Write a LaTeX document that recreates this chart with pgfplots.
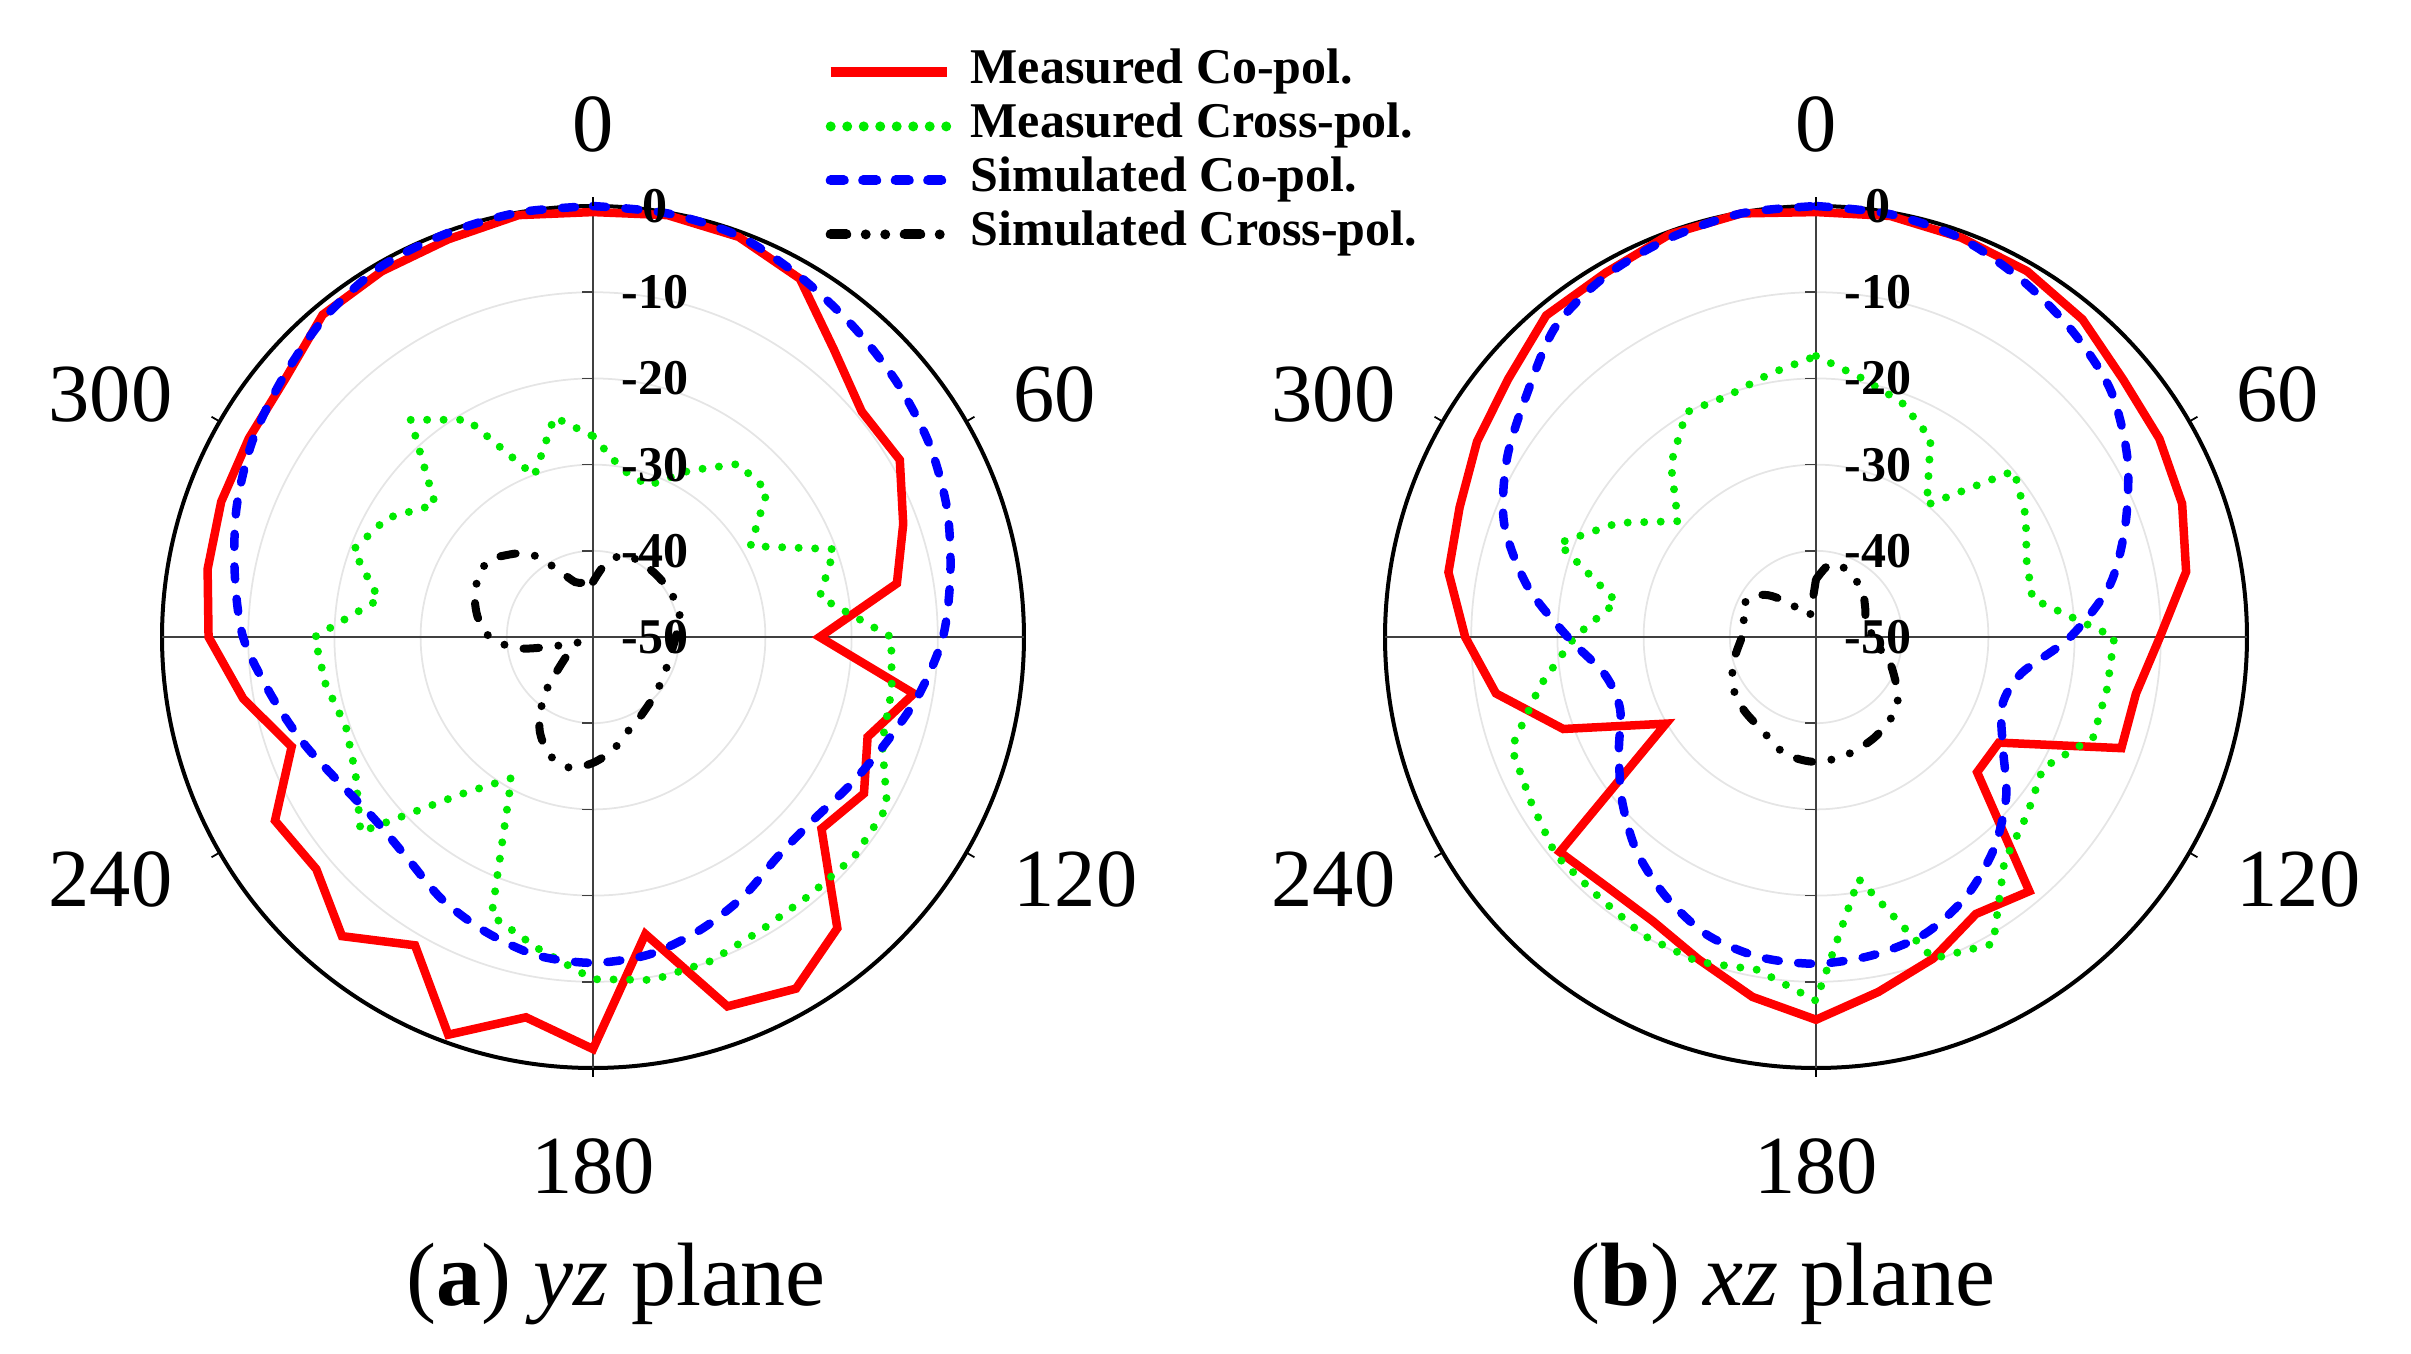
\documentclass[border=0pt]{standalone}
\usepackage{pgfplots}
\pgfplotsset{compat=1.18}
\usepackage{pgfplotstable}
\usepgfplotslibrary{polar}
\usepackage{fontspec}
\setmainfont{Liberation Serif}
\definecolor{mred}{RGB}{255,0,0}
\definecolor{mgreen}{RGB}{0,235,0}
\definecolor{sblue}{RGB}{0,0,255}
\newcommand\anglefont{\fontsize{16.5}{18}\selectfont}
\newcommand\radfont{\bfseries\fontsize{10}{12}\selectfont}
\newcommand\legfont{\bfseries\fontsize{10}{11}\selectfont}
\newcommand\capfont{\fontsize{18}{20}\selectfont}

% ---------- (a) yz plane ----------
\pgfplotstableread{
a d
0 -0.7
10 -0.3
20 -0.6
30 -2.0
40 -6.5
50 -9.3
60 -8.9
70 -11.7
80 -14.2
90 -23.7
100 -12.2
110 -16.1
120 -13.7
130 -15.4
140 -5.9
150 -2.9
160 -4.4
170 -15.0
180 -2.2
190 -5.2
200 -0.9
210 -8.7
220 -4.7
230 -8.1
240 -7.4
250 -12.8
260 -8.8
270 -5.4
280 -4.6
290 -4.1
300 -3.9
310 -3.4
320 -1.2
330 -1.0
340 -0.9
350 -0.3
360 -0.7
}\LRed
\pgfplotstableread{
a d
0 -26.7
10 -30.3
20 -31.3
30 -27.7
40 -23.8
50 -23.6
60 -28.9
70 -20.2
80 -23.3
90 -15.4
100 -14.8
110 -14.3
120 -10.6
130 -10.4
140 -10.9
150 -10.8
160 -10.0
170 -9.6
180 -10.3
190 -13.3
200 -15.6
210 -31.1
220 -26.2
230 -14.8
240 -18.2
250 -19.5
260 -18.5
270 -17.7
280 -24.8
290 -20.4
300 -22.4
310 -26.1
320 -17.1
330 -20.9
340 -30.1
350 -24.1
360 -26.7
}\LGreen
\pgfplotstableread{
a d
0 0.0
10 -0.1
20 -0.5
30 -1.8
40 -3.0
50 -4.0
60 -5.0
70 -6.3
80 -7.9
90 -9.4
100 -11.6
110 -13.9
120 -15.6
130 -16.8
140 -16.7
150 -15.2
160 -13.8
170 -12.6
180 -12.2
190 -12.5
200 -13.6
210 -14.9
220 -16.5
230 -17.0
240 -16.1
250 -14.2
260 -12.0
270 -9.4
280 -7.8
290 -6.0
300 -4.4
310 -3.1
320 -1.6
330 -0.5
340 -0.2
350 0.0
360 0.0
}\LBlue
\pgfplotstableread{
a d
0 -43.6
10 -41.3
20 -39.9
30 -39.7
45 -39.7
60 -39.6
75 -39.6
90 -40.4
105 -40.8
120 -40.6
135 -40.1
150 -39.2
160 -38.3
170 -36.7
180 -35.4
190 -34.6
200 -35.4
210 -37.6
220 -41.2
230 -45.3
240 -47.2
250 -48.1
255 -46.5
258 -44.2
261 -41.5
266 -39.3
271 -37.8
280 -36.4
290 -35.4
300 -34.9
307 -35.1
313 -36.1
320 -37.3
326 -38.9
334 -41.7
342 -43.3
350 -43.6
360 -43.6
}\LBlack

% ---------- (b) xz plane ----------
\pgfplotstableread{
a d
0 -0.7
10 -0.4
20 -0.7
30 -1.0
40 -1.9
50 -3.5
60 -4.0
70 -4.8
80 -6.4
90 -10.1
100 -12.3
110 -12.3
120 -25.5
130 -25.6
140 -11.5
150 -12.9
160 -10.3
170 -8.2
180 -5.6
190 -7.6
200 -10.2
210 -12.0
220 -12.2
230 -11.2
240 -29.9
250 -18.8
260 -12.3
270 -9.3
280 -6.7
290 -6.0
300 -4.6
310 -3.4
320 -1.3
330 -1.2
340 -0.3
350 -0.1
360 -0.7
}\RRed
\pgfplotstableread{
a d
0 -17.4
10 -19.5
20 -21.0
30 -23.4
40 -30.0
50 -20.0
60 -21.9
70 -24.0
80 -24.5
90 -15.4
100 -15.7
110 -15.8
120 -19.6
130 -18.0
140 -16.0
150 -8.9
160 -10.3
170 -21.5
180 -7.8
190 -10.8
200 -9.9
210 -10.0
220 -10.7
230 -10.6
240 -11.8
250 -12.4
260 -17.5
270 -22.0
280 -26.5
290 -18.2
300 -23.5
310 -29.1
320 -23.8
330 -19.9
340 -20.2
350 -19.0
360 -17.4
}\RGreen
\pgfplotstableread{
a d
0 0.0
10 -0.2
20 -0.8
30 -2.2
40 -3.7
50 -5.4
60 -8.3
70 -11.8
80 -15.4
90 -20.5
100 -25.8
110 -27.0
120 -25.0
130 -21.2
140 -17.9
150 -15.2
160 -13.3
170 -12.5
180 -12.1
190 -12.3
200 -13.2
210 -15.2
220 -17.6
230 -20.6
240 -23.6
250 -25.8
260 -25.1
270 -21.2
280 -16.0
290 -11.5
300 -8.6
310 -6.2
320 -3.0
330 -1.5
340 -0.7
350 -0.1
360 0.0
}\RBlue
\pgfplotstableread{
a d
0 -43.3
10 -41.5
20 -41.3
30 -41.7
45 -42.4
60 -43.4
75 -44.0
90 -43.3
100 -42.5
110 -40.8
125 -38.4
135 -37.3
150 -36.5
165 -35.9
180 -35.5
195 -36.0
210 -37.5
225 -38.1
240 -38.8
255 -40.2
270 -41.4
280 -41.6
290 -40.8
302 -41.1
311 -42.6
318 -44.2
322 -44.8
341 -47.4
355 -45.6
360 -43.3
}\RBlack

\pgfplotsset{
  mypolar/.style={
    width=172.4pt, height=172.4pt, scale only axis,
    anchor=center,
    xmin=0, xmax=360, ymin=0, ymax=50,
    xtick=\empty,
    minor xtick={30,150,210,330},
    xminorgrids=true,
    minor grid style={black!28, line width=0.35pt},
    ytick={10,20,30,40},
    yticklabel=\empty,
    ymajorgrids=true,
    major grid style={black!10, line width=0.35pt},
    extra x ticks={0,90,180,270},
    extra x tick labels={},
    extra x tick style={xmajorgrids=true, major grid style={black!75, line width=0.35pt}},
    major tick length=0pt, minor tick length=0pt,
    x axis line style={black, line width=0.8pt},
    y axis line style={draw=none},
    clip=false,
  },
  meas co/.style={color=mred, line width=1.7pt},
  meas cross/.style={color=mgreen, line width=1.6pt, line cap=round, dash pattern=on 0pt off 3.3pt},
  sim co/.style={color=sblue, line width=1.7pt, line cap=round, dash pattern=on 2.6pt off 3.9pt, smooth},
  sim cross/.style={color=black, line width=1.6pt, line cap=round, dash pattern=on 3.1pt off 3.9pt on 0pt off 3.9pt on 0pt off 3.9pt, smooth},
  table/polar tab/.style={x expr={90-\thisrow{a}}, y expr={\thisrow{d}+50}},
}

\newcommand\polardecor{%
  \pgfplotsinvokeforeach{10,20,30,40}{
    \draw[black!75, line width=0.35pt] (axis cs:90,##1) -- ++(-2.2pt,0pt);
    \draw[black!75, line width=0.35pt] (axis cs:270,##1) -- ++(-2.2pt,0pt);
  }
  \pgfplotsinvokeforeach{30,90,150,210,270,330}{
    \draw[black, line width=0.35pt] (axis cs:##1,50) -- (axis cs:##1,51.1);
  }
  \node[anchor=south, inner sep=0pt, font=\anglefont] at (axis cs:90,56.1) {0};
  \node[anchor=west, inner sep=0pt, font=\anglefont] at (axis cs:30,56.2) {60};
  \node[anchor=west, inner sep=0pt, font=\anglefont] at (axis cs:330,56.2) {120};
  \node[anchor=north, inner sep=0pt, font=\anglefont] at (axis cs:270,58.1) {180};
  \node[anchor=east, inner sep=0pt, font=\anglefont] at (axis cs:210,56.2) {240};
  \node[anchor=east, inner sep=0pt, font=\anglefont] at (axis cs:150,56.2) {300};
  \node[inner sep=0pt, font=\radfont, xshift=12.4pt] at (axis cs:90,50) {0};
  \node[inner sep=0pt, font=\radfont, xshift=12.4pt] at (axis cs:90,40) {-10};
  \node[inner sep=0pt, font=\radfont, xshift=12.4pt] at (axis cs:90,30) {-20};
  \node[inner sep=0pt, font=\radfont, xshift=12.4pt] at (axis cs:90,20) {-30};
  \node[inner sep=0pt, font=\radfont, xshift=12.4pt] at (axis cs:90,10) {-40};
  \node[inner sep=0pt, font=\radfont, xshift=12.4pt] at (axis cs:90,0) {-50};
}

\begin{document}
\begin{tikzpicture}
\useasboundingbox (0,0) rectangle (482.2pt,-270.6pt);

\begin{polaraxis}[mypolar, at={(118.6pt,-127.4pt)},
  legend style={at={(axis description cs:0.770,1.184)}, anchor=north west,
    draw=none, fill=none, inner sep=0pt, outer sep=0pt, row sep=0.8pt,
    font=\legfont, cells={anchor=west},
    nodes={inner sep=0pt, text height=7.2pt, text depth=2.8pt},
    /tikz/every odd column/.append style={column sep=3.8pt}},
  legend image code/.code={\draw[#1, line width=2pt] (0pt,0pt) -- (23.2pt,0pt);},
]
\addplot[meas co] table[polar tab] {\LRed};
\addlegendentry{Measured Co-pol.}
\addplot[meas cross] table[polar tab] {\LGreen};
\addlegendentry{Measured Cross-pol.}
\addplot[sim co] table[polar tab] {\LBlue};
\addlegendentry{Simulated Co-pol.}
\addplot[sim cross] table[polar tab] {\LBlack};
\addlegendentry{Simulated Cross-pol.}
\polardecor
\end{polaraxis}

\begin{polaraxis}[mypolar, at={(363.2pt,-127.4pt)}]
\addplot[meas co] table[polar tab] {\RRed};
\addplot[meas cross] table[polar tab] {\RGreen};
\addplot[sim co] table[polar tab] {\RBlue};
\addplot[sim cross] table[polar tab] {\RBlack};
\polardecor
\end{polaraxis}

\node[anchor=base, font=\capfont] at (123.2pt,-261pt) {(\textbf{a}) \textit{yz} plane};
\node[anchor=base, font=\capfont] at (356.6pt,-261pt) {(\textbf{b}) \textit{xz} plane};
\end{tikzpicture}
\end{document}
